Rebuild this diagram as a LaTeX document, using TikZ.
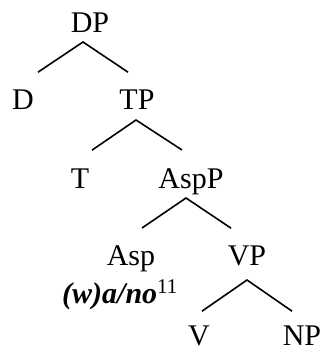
\documentclass[tikz,border=0pt]{standalone}
\usepackage{fontspec}
\setmainfont{Liberation Serif}
\usepackage{tikz}

\begin{document}
\begin{tikzpicture}[x=1pt, y=-1pt,
    cat/.style={anchor=base, inner sep=0pt, font=\fontsize{30}{36}\selectfont},
    branch/.style={line width=1.6pt}]
    \useasboundingbox (0,0) rectangle (323,352);
    % labels
    \node[cat] (DP) at (90,33) {DP};
    \node[cat] (D) at (23,110) {D};
    \node[cat] (TP) at (137,110) {TP};
    \node[cat] (T) at (80,188) {T};
    \node[cat] (AspP) at (191,188) {AspP};
    \node[cat] (Asp) at (131,265) {Asp};
    \node[cat, anchor=base west] (wano) at (62,303)
      {\textbf{\textit{(w)a/no}}\textsuperscript{11}};
    \node[cat] (VP) at (247,265) {VP};
    \node[cat] (V) at (199,345) {V};
    \node[cat] (NP) at (302,345) {NP};
    % branches
    \draw[branch] ([shift={(15,-18)}]D.north) -- ([shift={(-7,9)}]DP.base)
      -- ([shift={(-9,-18)}]TP.north);
    \draw[branch] ([shift={(12,-18)}]T.north) -- ([shift={(-1,10)}]TP.base)
      -- ([shift={(-9,-18)}]AspP.north);
    \draw[branch] ([shift={(11,-17)}]Asp.north) -- ([shift={(-5,10)}]AspP.base)
      -- ([shift={(-16,-17)}]VP.north);
    \draw[branch] ([shift={(3,-14)}]V.north) -- ([shift={(0,15)}]VP.base)
      -- ([shift={(-10,-14)}]NP.north);
  \end{tikzpicture}
\end{document}
